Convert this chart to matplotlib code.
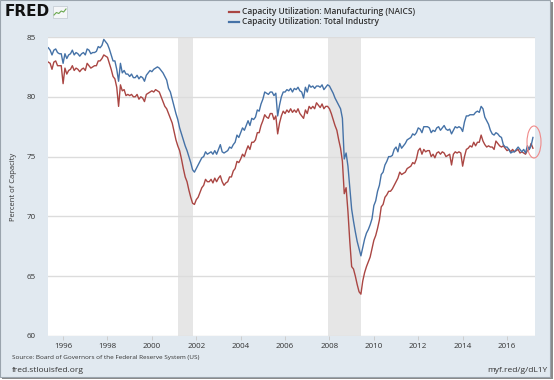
#!/usr/bin/env python3

import numpy as np
import matplotlib.pyplot as plt
from matplotlib.lines import Line2D
from matplotlib.patches import Rectangle, Ellipse

plt.rcParams['font.family'] = ['Open Sans', 'DejaVu Sans']

W, H = 554, 380

# monthly series, first value is May 1995
START_YEAR, START_MONTH = 1995, 5

total_industry = [
    84.1, 83.9, 83.5, 83.9, 84.0, 83.7, 83.6, 83.6,                    # 1995
    82.8, 83.6, 83.2, 83.5, 83.6, 83.9, 83.5, 83.7, 83.6, 83.4, 83.6, 83.7,  # 1996
    83.5, 84.0, 83.9, 83.6, 83.7, 83.7, 83.8, 84.2, 84.1, 84.3, 84.8, 84.6,  # 1997
    84.4, 84.0, 83.5, 83.0, 83.0, 82.3, 81.3, 82.8, 82.0, 82.2, 81.9, 81.9,  # 1998
    81.7, 81.9, 81.6, 81.6, 81.8, 81.5, 81.7, 81.6, 81.3, 81.8, 82.0, 82.2,  # 1999
    82.1, 82.3, 82.4, 82.5, 82.4, 82.2, 82.0, 81.7, 81.4, 80.7, 80.4, 79.8,  # 2000
    79.2, 78.6, 78.1, 77.4, 76.9, 76.4, 75.9, 75.5, 75.0, 74.5, 73.9, 73.7,  # 2001
    74.0, 74.3, 74.6, 74.9, 75.0, 75.4, 75.2, 75.3, 75.4, 75.2, 75.5, 75.2,  # 2002
    75.6, 76.0, 75.4, 75.3, 75.4, 75.5, 75.8, 75.7, 76.0, 76.2, 76.8, 76.6,  # 2003
    77.0, 77.4, 77.2, 77.6, 78.0, 77.6, 78.2, 78.1, 78.3, 78.9, 78.8, 79.4,  # 2004
    79.8, 80.4, 80.3, 80.2, 80.4, 80.4, 80.1, 80.3, 78.4, 79.3, 80.0, 80.4,  # 2005
    80.4, 80.6, 80.5, 80.7, 80.4, 80.7, 80.6, 80.8, 80.5, 80.4, 79.9, 80.8,  # 2006
    80.4, 81.0, 80.8, 80.9, 80.7, 80.9, 80.9, 80.8, 81.0, 80.6, 80.8, 81.0,  # 2007
    80.9, 80.6, 80.3, 79.9, 79.6, 79.3, 79.0, 78.2, 74.8, 75.3, 74.2, 72.4,  # 2008
    70.6, 69.6, 68.7, 67.9, 67.3, 66.7, 67.4, 68.1, 68.6, 68.9, 69.3, 69.8,  # 2009
    70.9, 71.3, 72.1, 72.6, 73.5, 73.7, 74.3, 74.6, 75.0, 75.0, 75.1, 75.6,  # 2010
    75.8, 75.4, 76.1, 75.7, 75.9, 76.1, 76.4, 76.5, 76.6, 76.9, 76.8, 77.0,  # 2011
    77.4, 77.3, 77.0, 77.5, 77.5, 77.5, 77.4, 77.0, 77.2, 77.1, 77.4, 77.5,  # 2012
    77.2, 77.4, 77.6, 77.3, 77.2, 77.3, 76.9, 77.2, 77.5, 77.4, 77.5, 77.4,  # 2013
    77.1, 77.9, 78.4, 78.4, 78.5, 78.5, 78.5, 78.7, 78.8, 78.7, 79.2, 79.0,  # 2014
    78.3, 78.0, 77.7, 77.2, 76.9, 76.8, 77.0, 76.9, 76.7, 76.6, 76.0, 75.8,  # 2015
    75.8, 75.6, 75.3, 75.4, 75.4, 75.6, 75.8, 75.6, 75.4, 75.6, 75.3, 75.9,  # 2016
    75.6, 75.9, 76.6,                                                  # 2017
]

manufacturing = [
    82.9, 82.8, 82.3, 82.9, 83.0, 82.6, 82.6, 82.6,                    # 1995
    81.1, 82.4, 81.9, 82.2, 82.3, 82.6, 82.2, 82.4, 82.3, 82.1, 82.3, 82.4,  # 1996
    82.2, 82.8, 82.6, 82.4, 82.5, 82.6, 82.6, 83.0, 83.0, 83.2, 83.5, 83.4,  # 1997
    83.3, 82.8, 82.3, 81.7, 81.5, 80.8, 79.2, 81.0, 80.5, 80.6, 80.1, 80.2,  # 1998
    80.1, 80.2, 80.0, 80.0, 80.2, 79.8, 80.0, 79.9, 79.6, 80.2, 80.3, 80.4,  # 1999
    80.5, 80.4, 80.6, 80.5, 80.4, 80.0, 79.6, 79.2, 79.0, 78.6, 78.2, 77.8,  # 2000
    77.1, 76.4, 75.9, 75.5, 74.8, 74.0, 73.3, 72.9, 72.2, 71.6, 71.1, 71.0,  # 2001
    71.4, 71.6, 72.0, 72.4, 72.6, 73.1, 72.9, 72.9, 73.1, 72.8, 73.2, 72.9,  # 2002
    73.2, 73.4, 72.9, 72.6, 72.8, 72.9, 73.3, 73.3, 73.8, 74.0, 74.6, 74.5,  # 2003
    74.8, 75.2, 75.0, 75.5, 75.9, 75.6, 76.2, 76.2, 76.4, 77.0, 77.0, 77.6,  # 2004
    78.0, 78.5, 78.3, 78.2, 78.6, 78.6, 78.1, 78.4, 76.9, 77.8, 78.4, 78.8,  # 2005
    78.6, 78.9, 78.7, 79.0, 78.7, 78.9, 78.7, 79.0, 78.6, 78.4, 78.2, 78.9,  # 2006
    78.6, 79.2, 79.0, 79.2, 79.0, 79.5, 79.3, 79.1, 79.4, 79.0, 79.2, 79.2,  # 2007
    79.0, 78.6, 78.1, 77.6, 77.2, 76.4, 75.7, 74.6, 71.9, 72.4, 70.4, 67.9,  # 2008
    65.8, 65.6, 65.0, 64.3, 63.7, 63.5, 64.6, 65.3, 65.8, 66.2, 66.6, 67.3,  # 2009
    68.0, 68.4, 69.0, 69.7, 70.8, 71.0, 71.6, 71.8, 72.1, 72.1, 72.3, 72.6,  # 2010
    72.9, 73.2, 73.7, 73.5, 73.6, 73.7, 74.0, 74.1, 74.2, 74.5, 74.4, 74.8,  # 2011
    75.5, 75.7, 75.2, 75.6, 75.4, 75.5, 75.5, 75.0, 75.2, 74.9, 75.3, 75.4,  # 2012
    75.2, 75.4, 75.3, 75.0, 75.1, 75.2, 74.3, 75.2, 75.4, 75.3, 75.4, 75.3,  # 2013
    74.2, 75.0, 75.6, 75.7, 75.9, 75.8, 76.2, 75.9, 76.2, 76.2, 76.8, 76.3,  # 2014
    76.0, 75.8, 75.9, 75.8, 75.8, 75.6, 76.3, 76.1, 75.9, 75.8, 75.9, 75.7,  # 2015
    75.5, 75.6, 75.4, 75.6, 75.4, 75.5, 75.6, 75.3, 75.4, 75.3, 75.2, 75.5,  # 2016
    75.6, 76.1, 75.7,                                                  # 2017
]

# NBER recessions (start, end) as decimal years
recessions = [(2001 + 2 / 12, 2001 + 10 / 12), (2007 + 11 / 12, 2009 + 5 / 12)]

x_ticks = list(range(1996, 2017, 2))
y_ticks = [60, 65, 70, 75, 80, 85]

labels = ['Capacity Utilization: Manufacturing (NAICS)',
          'Capacity Utilization: Total Industry']
colors = ['#aa4643', '#4572a7']

BG = '#e1e9f0'
TEXT = '#333333'


def fx(x):
    return x / W


def fy(y):
    return 1 - y / H


def main():
    n = len(total_industry)
    months = np.arange(n) + (START_MONTH - 1)
    t = START_YEAR + months / 12.0

    fig = plt.figure(figsize=(W / 100, H / 100), dpi=100, facecolor='white')

    # screenshot frame with shadow
    fig.patches.append(Rectangle((fx(2), fy(379)), fx(551), 377 / H,
                                 transform=fig.transFigure, facecolor='#8a8a8a',
                                 edgecolor='none', zorder=-3))
    fig.patches.append(Rectangle((0, fy(377)), fx(550), 377 / H,
                                 transform=fig.transFigure, facecolor=BG,
                                 edgecolor='#9aa4ad', linewidth=0.8, zorder=-2))

    ax = fig.add_axes([fx(48), fy(336), fx(535 - 48), (336 - 37) / H])
    ax.set_facecolor('white')
    for s in ax.spines.values():
        s.set_visible(False)

    for (a, b) in recessions:
        ax.axvspan(a, b, color='#e6e6e6', lw=0, zorder=0)

    ax.plot(t, manufacturing, color=colors[0], lw=1.0, zorder=3)
    ax.plot(t, total_industry, color=colors[1], lw=1.0, zorder=4)

    ax.set_xlim(1995.32, 2017.26)
    ax.set_ylim(60, 85)
    ax.set_yticks(y_ticks)
    ax.set_yticklabels([str(v) for v in y_ticks])
    ax.set_xticks(x_ticks)
    ax.set_xticklabels([str(v) for v in x_ticks])
    ax.grid(axis='y', color='#dcdcdc', lw=1.0)
    ax.set_axisbelow(True)
    ax.tick_params(axis='y', length=0, pad=9, labelsize=5.8, labelcolor=TEXT)
    ax.tick_params(axis='x', length=3, width=0.6, color='#c8c8c8', pad=2,
                   labelsize=5.8, labelcolor=TEXT)
    ax.set_ylabel('Percent of Capacity', fontsize=5.5, color=TEXT, labelpad=7)

    # legend at top
    for i, (lab, c) in enumerate(zip(labels, colors)):
        yy = 11.5 + i * 10.5
        fig.lines.append(Line2D([fx(229), fx(239)], [fy(yy), fy(yy)],
                                transform=fig.transFigure, color=c, lw=1.6))
        fig.text(fx(242), fy(yy), lab, fontsize=6, color=TEXT,
                 fontweight='semibold', va='center', ha='left')

    # FRED logo
    fig.text(fx(5), fy(12), 'FRED', fontsize=11, fontweight='heavy',
             family='DejaVu Sans', color='#111111', va='center', ha='left')
    fig.patches.append(Rectangle((fx(53), fy(18)), fx(14), 12 / H,
                                 transform=fig.transFigure, facecolor='#f4f6f8',
                                 edgecolor='#c0c8cf', linewidth=0.5))
    logo = [0.2, 0.45, 0.35, 0.6, 0.5, 0.8]
    lx = np.linspace(fx(54), fx(66), len(logo))
    ly = fy(17) + np.array(logo) * 10 / H
    fig.lines.append(Line2D(lx, ly, transform=fig.transFigure,
                            color='#6aa84f', lw=0.8))

    # recent points highlight
    fig.patches.append(Ellipse((fx(534), fy(142)), 14 / W, 32 / H,
                               transform=fig.transFigure, fill=False,
                               edgecolor='#f08a8a', linewidth=0.8, zorder=10))

    fig.text(fx(12), fy(357), 'Source: Board of Governors of the Federal Reserve System (US)',
             fontsize=4.6, color=TEXT, va='center', ha='left')
    fig.text(fx(12), fy(371), 'fred.stlouisfed.org', fontsize=6, color=TEXT,
             va='center', ha='left')
    fig.text(fx(547), fy(371), 'myf.red/g/dL1Y', fontsize=6, color=TEXT,
             va='center', ha='right')

    fig.savefig('out.png', dpi=100, facecolor='white')


if __name__ == "__main__":
    main()
